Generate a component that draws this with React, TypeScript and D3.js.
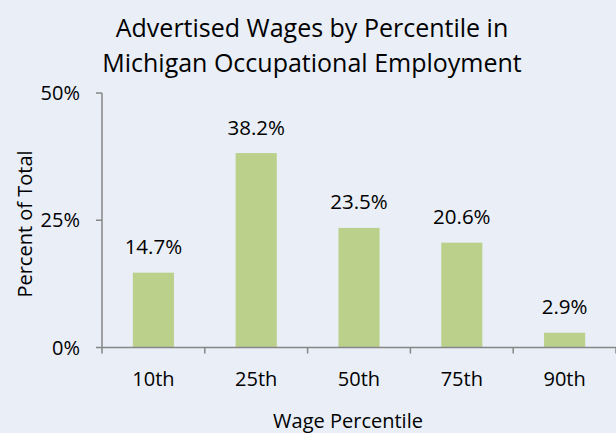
import React from "react";
import * as d3 from "d3";

const categories = ["10th", "25th", "50th", "75th", "90th"];
const values = [14.7, 38.2, 23.5, 20.6, 2.9];
const yTicks = [0, 25, 50];

const W = 616;
const H = 433;
const FONT = "'Open Sans', sans-serif";

const App = () => {
  const x = d3
    .scaleBand()
    .domain(categories)
    .range([102, 616])
    .paddingInner(0.6)
    .paddingOuter(0.3);
  const y = d3.scaleLinear().domain([0, 50]).range([347.5, 93]);
  const step = x.step();
  const x0 = x.range()[0];

  return (
    <svg
      width={W}
      height={H}
      style={{ position: "absolute", left: 0, top: 0, background: "#E9EEF7" }}
      fontFamily={FONT}
    >
      <rect width={W} height={H} fill="#E9EEF7" />
      <text x={312} y={37} textAnchor="middle" fontSize={25} fill="#000">
        Advertised Wages by Percentile in
      </text>
      <text x={312} y={72} textAnchor="middle" fontSize={25} fill="#000">
        Michigan Occupational Employment
      </text>

      {/* bars */}
      {categories.map((c, i) => (
        <g key={c}>
          <rect
            x={x(c)}
            y={y(values[i])}
            width={x.bandwidth()}
            height={y(0) - y(values[i])}
            fill="#BBD18B"
          />
          <text
            x={x(c)! + x.bandwidth() / 2}
            y={y(values[i]) - 18.5}
            textAnchor="middle"
            fontSize={20.5}
            fill="#000"
          >
            {values[i].toFixed(1) + "%"}
          </text>
          <text
            x={x(c)! + x.bandwidth() / 2}
            y={386}
            textAnchor="middle"
            fontSize={20}
            fill="#000"
          >
            {c}
          </text>
        </g>
      ))}

      {/* y axis */}
      <line x1={102} x2={102} y1={y(50)} y2={y(0)} stroke="#868686" strokeWidth={1.5} />
      {yTicks.map((t) => (
        <g key={t}>
          <line x1={96} x2={102} y1={y(t)} y2={y(t)} stroke="#868686" strokeWidth={1.5} />
          <text x={80} y={y(t) + 7} textAnchor="end" fontSize={20} fill="#000">
            {t + "%"}
          </text>
        </g>
      ))}

      {/* x axis */}
      <line x1={x0} x2={616} y1={y(0)} y2={y(0)} stroke="#868686" strokeWidth={1.5} />
      {d3.range(categories.length + 1).map((i) => (
        <line
          key={i}
          x1={x0 + i * step}
          x2={x0 + i * step}
          y1={y(0)}
          y2={y(0) + 6}
          stroke="#868686"
          strokeWidth={1.5}
        />
      ))}

      <text x={348} y={428} textAnchor="middle" fontSize={20} fill="#000">
        Wage Percentile
      </text>
      <text
        transform="translate(32,224) rotate(-90)"
        textAnchor="middle"
        fontSize={20}
        fill="#000"
      >
        Percent of Total
      </text>
    </svg>
  );
};

export default App;
